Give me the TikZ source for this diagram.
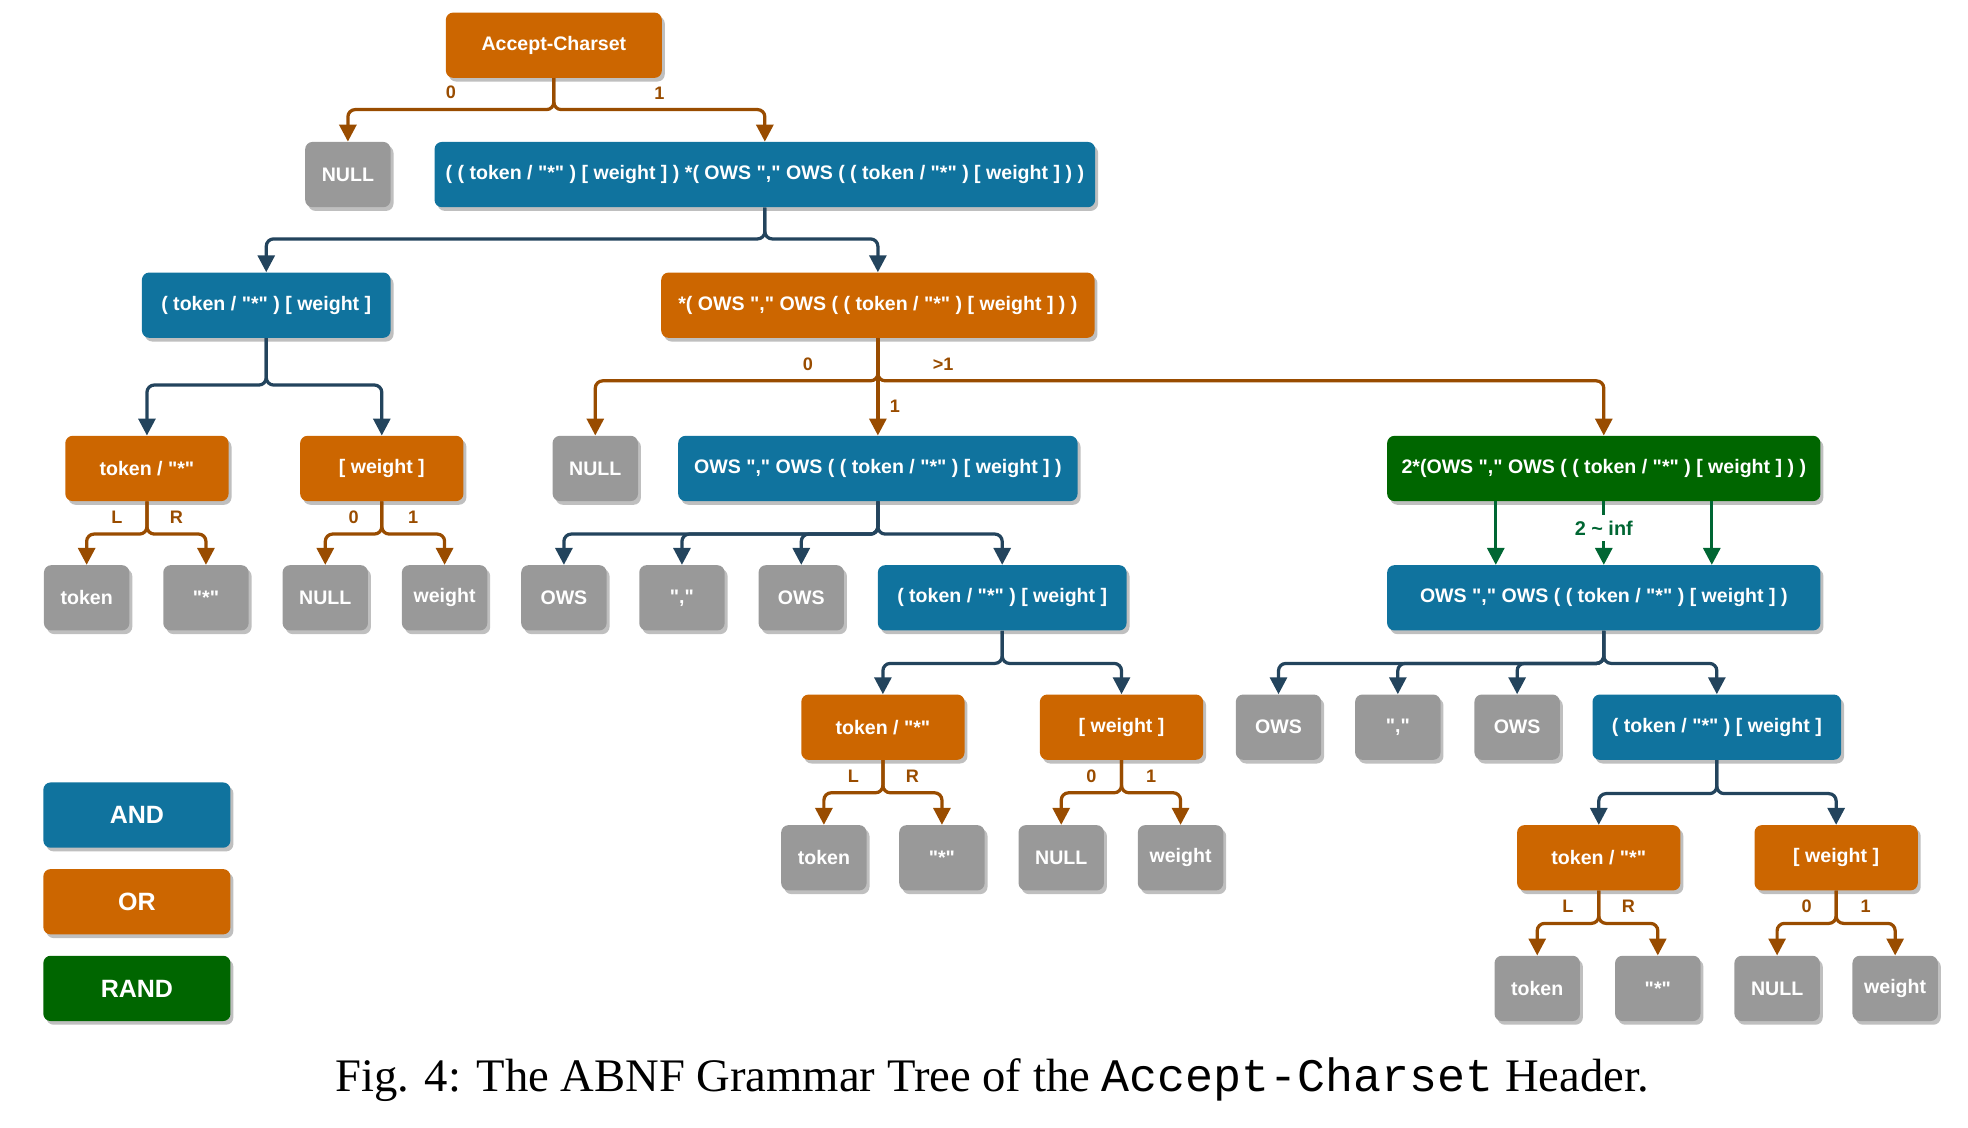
\documentclass[tikz,border=0pt]{standalone}
\usepackage{fontspec}
\setmainfont{Liberation Serif}
\setmonofont{Liberation Mono}
\newfontfamily\boxfont{Liberation Sans}
\usetikzlibrary{arrows.meta,shadows}

\definecolor{andfill}{HTML}{10739E}
\definecolor{orfill}{HTML}{CC6600}
\definecolor{randfill}{HTML}{006600}
\definecolor{leaffill}{HTML}{999999}
\definecolor{andline}{HTML}{23445D}
\definecolor{orline}{HTML}{994C00}
\definecolor{randline}{HTML}{006633}

\tikzset{
  basenode/.style={rounded corners=5pt, text=white, inner xsep=2pt,
    font=\boxfont\bfseries\fontsize{13.3}{16}\selectfont, minimum height=15.6mm,
    drop shadow={shadow xshift=2pt, shadow yshift=-2.5pt, fill=black!25, opacity=1}},
  leafnode/.style={basenode, fill=leaffill, minimum width=20.4mm},
  andnode/.style={basenode, fill=andfill, minimum width=#1},
  ornode/.style={basenode, fill=orfill, minimum width=#1},
  randnode/.style={basenode, fill=randfill, minimum width=#1},
  keynode/.style={basenode, minimum width=44.7mm, font=\boxfont\bfseries\fontsize{17}{20}\selectfont},
  treelink/.style={line width=2.2pt, rounded corners=5pt, -{Triangle[length=11.5pt,width=11.5pt]},
    to path={(\tikztostart.south) -- ([yshift=-#1]\tikztostart.south) -| (\tikztotarget.north) \tikztonodes}},
  straight/.style={to path={(\tikztostart.south) -- (\tikztotarget.north) \tikztonodes}},
  andlink/.style={treelink=#1, draw=andline},
  orlink/.style={treelink=#1, draw=orline},
  randlink/.style={line width=2.2pt, draw=randline, -{Triangle[length=11.5pt,width=11.5pt]}},
  lbl/.style={text=orline, inner sep=2pt, font=\boxfont\bfseries\fontsize{12.3}{14}\selectfont},
}

\begin{document}
\begin{tikzpicture}[x=0.3mm, y=-0.3mm]
  \useasboundingbox (0,0) rectangle (1567,898);

  % top levels
  \node[ornode=51.6mm] (root) at (441,36) {Accept-Charset};
  \node[leafnode] (null1) at (277,139) {NULL};
  \node[andnode=157.8mm] (all) at (609,139) {( ( token / "*" ) [ weight ] ) *( OWS "," OWS ( ( token / "*" ) [ weight ] ) )};
  \node[andnode=59.4mm] (item1) at (212,243) {( token / "*" ) [ weight ]};
  \node[ornode=103.5mm] (rep) at (699,243) {*( OWS "," OWS ( ( token / "*" ) [ weight ] ) )};

  % first element
  \node[ornode=39mm] (tok1) at (117,373) {token / "*"};
  \node[ornode=39mm] (wt1) at (304,373) {[ weight ]};
  \node[leafnode] (tokA) at (69,476) {token};
  \node[leafnode] (starA) at (164,476) {"*"};
  \node[leafnode] (nullA) at (259,476) {NULL};
  \node[leafnode] (wA) at (354,476) {weight};

  % repetition: 0, 1, >1
  \node[leafnode] (null2) at (474,373) {NULL};
  \node[andnode=95.4mm] (seq1) at (699,373) {OWS "," OWS ( ( token / "*" ) [ weight ] )};
  \node[randnode=103.5mm] (rand) at (1277,373) {2*(OWS "," OWS ( ( token / "*" ) [ weight ] ) )};

  \node[leafnode] (owsA) at (449,476) {OWS};
  \node[leafnode] (commaA) at (543,476) {","};
  \node[leafnode] (owsB) at (638,476) {OWS};
  \node[andnode=59.4mm] (item2) at (798,476) {( token / "*" ) [ weight ]};
  \node[ornode=39mm] (tok2) at (703,579) {token / "*"};
  \node[ornode=39mm] (wt2) at (893,579) {[ weight ]};
  \node[leafnode] (tokB) at (656,683) {token};
  \node[leafnode] (starB) at (750,683) {"*"};
  \node[leafnode] (nullB) at (845,683) {NULL};
  \node[leafnode] (wB) at (940,683) {weight};

  \node[andnode=103.5mm] (seq2) at (1277,476) {OWS "," OWS ( ( token / "*" ) [ weight ] )};
  \node[leafnode] (owsC) at (1018,579) {OWS};
  \node[leafnode] (commaB) at (1113,579) {","};
  \node[leafnode] (owsD) at (1208,579) {OWS};
  \node[andnode=59.4mm] (item3) at (1367,579) {( token / "*" ) [ weight ]};
  \node[ornode=39mm] (tok3) at (1273,683) {token / "*"};
  \node[ornode=39mm] (wt3) at (1462,683) {[ weight ]};
  \node[leafnode] (tokC) at (1224,787) {token};
  \node[leafnode] (starC) at (1320,787) {"*"};
  \node[leafnode] (nullC) at (1415,787) {NULL};
  \node[leafnode] (wC) at (1509,787) {weight};

  % legend
  \node[keynode, fill=andfill] (andkey) at (109,649) {AND};
  \node[keynode, fill=orfill] (orkey) at (109,718) {OR};
  \node[keynode, fill=randfill] (randkey) at (109,787) {RAND};

  % edges
  \path (root) edge[orlink=7.5mm] node[lbl, pos=.25, above=4pt] {0} (null1);
  \path (root) edge[orlink=7.5mm] node[lbl, pos=.25, above=4pt] {1} (all);
  \path (all) edge[andlink=7.5mm] (item1);
  \path (all) edge[andlink=7.5mm] (rep);

  \path (item1) edge[andlink=11.2mm] (tok1);
  \path (item1) edge[andlink=11.2mm] (wt1);
  \path (tok1) edge[orlink=7.8mm] node[lbl, pos=.25, above=4pt] {L} (tokA);
  \path (tok1) edge[orlink=7.8mm] node[lbl, pos=.25, above=4pt] {R} (starA);
  \path (wt1) edge[orlink=7.8mm] node[lbl, pos=.25, above=4pt] {0} (nullA);
  \path (wt1) edge[orlink=7.8mm] node[lbl, pos=.25, above=4pt] {1} (wA);

  \path (rep) edge[orlink=10.2mm] node[lbl, pos=.124, above=4pt] {0} (null2);
  \path (rep) edge[orlink=10.2mm, straight] node[lbl, pos=.7, right=5pt] {1} (seq1);
  \path (rep) edge[orlink=10.2mm] node[lbl, pos=.045, above=4pt] {>1} (rand);

  \path (seq1) edge[andlink=7.8mm] (owsA);
  \path (seq1) edge[andlink=7.8mm] (commaA);
  \path (seq1) edge[andlink=7.8mm] (owsB);
  \path (seq1) edge[andlink=7.8mm] (item2);
  \path (item2) edge[andlink=7.8mm] (tok2);
  \path (item2) edge[andlink=7.8mm] (wt2);
  \path (tok2) edge[orlink=7.8mm] node[lbl, pos=.25, above=4pt] {L} (tokB);
  \path (tok2) edge[orlink=7.8mm] node[lbl, pos=.25, above=4pt] {R} (starB);
  \path (wt2) edge[orlink=7.8mm] node[lbl, pos=.25, above=4pt] {0} (nullB);
  \path (wt2) edge[orlink=7.8mm] node[lbl, pos=.25, above=4pt] {1} (wB);

  \draw[randlink] ([xshift=-25.8mm]rand.south) -- ([xshift=-25.8mm]seq2.north);
  \draw[randlink] (rand) -- node[pos=.42, fill=white, inner xsep=1pt, inner ysep=4pt, text=randline,
    font=\boxfont\bfseries\fontsize{13.5}{16}\selectfont] {2 \textasciitilde{} inf} (seq2);
  \draw[randlink] ([xshift=25.8mm]rand.south) -- ([xshift=25.8mm]seq2.north);

  \path (seq2) edge[andlink=7.8mm] (owsC);
  \path (seq2) edge[andlink=7.8mm] (commaB);
  \path (seq2) edge[andlink=7.8mm] (owsD);
  \path (seq2) edge[andlink=7.8mm] (item3);
  \path (item3) edge[andlink=8mm] (tok3);
  \path (item3) edge[andlink=8mm] (wt3);
  \path (tok3) edge[orlink=7.8mm] node[lbl, pos=.25, above=4pt] {L} (tokC);
  \path (tok3) edge[orlink=7.8mm] node[lbl, pos=.25, above=4pt] {R} (starC);
  \path (wt3) edge[orlink=7.8mm] node[lbl, pos=.25, above=4pt] {0} (nullC);
  \path (wt3) edge[orlink=7.8mm] node[lbl, pos=.25, above=4pt] {1} (wC);

  % caption
  \node (caption) at (790,860) {\fontsize{31.7}{38}\selectfont Fig. 4: The ABNF Grammar Tree of the \texttt{Accept-Charset} Header.};
\end{tikzpicture}
\end{document}
